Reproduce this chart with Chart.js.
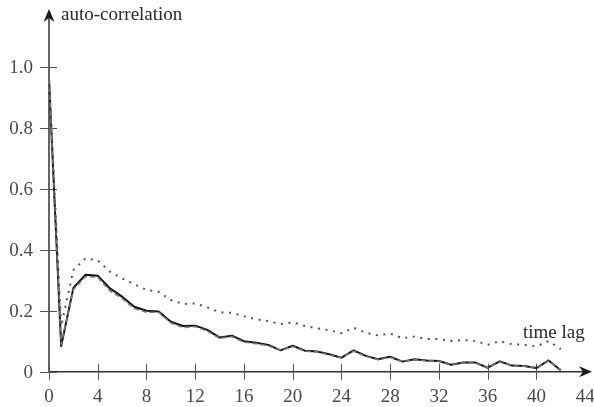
<!DOCTYPE html>
<html><head><meta charset="utf-8">
<script src="https://cdn.jsdelivr.net/npm/chart.js@4/dist/chart.umd.min.js"></script>
<style>html,body{margin:0;padding:0;background:#fff;} #wrap{width:594px;height:407px;}</style>
</head><body><div id="wrap"><canvas id="c" width="594" height="407"></canvas></div>
<script>
// ---- data ----
const lags = [0,1,2,3,4,5,6,7,8,9,10,11,12,13,14,15,16,17,18,19,20,21,22,23,24,25,26,27,28,29,30,31,32,33,34,35,36,37,38,39,40,41,42];
const acfSolid = [0.96,0.084,0.275,0.318,0.315,0.273,0.246,0.213,0.200,0.197,0.164,0.150,0.151,0.137,0.112,0.118,0.100,0.095,0.088,0.070,0.085,0.069,0.066,0.057,0.046,0.070,0.052,0.041,0.049,0.033,0.041,0.037,0.035,0.023,0.030,0.030,0.013,0.034,0.020,0.019,0.012,0.037,0.005];
const acfDashed = [0.96,0.090,0.270,0.312,0.310,0.265,0.240,0.207,0.195,0.195,0.160,0.145,0.148,0.133,0.110,0.115,0.097,0.092,0.085,0.070,0.083,0.067,0.065,0.055,0.046,0.068,0.050,0.040,0.047,0.033,0.039,0.036,0.034,0.023,0.029,0.029,0.014,0.032,0.020,0.018,0.013,0.035,0.006];
const acfDotted = [0.96,0.150,0.333,0.372,0.365,0.328,0.306,0.287,0.268,0.262,0.235,0.222,0.224,0.211,0.195,0.193,0.182,0.172,0.166,0.156,0.162,0.150,0.142,0.136,0.126,0.144,0.128,0.119,0.125,0.110,0.115,0.107,0.107,0.101,0.104,0.101,0.088,0.100,0.090,0.088,0.083,0.100,0.074];
const xTickValues = [0,4,8,12,16,20,24,28,32,36,40,44];
const xTickLabels = ['0','4','8','12','16','20','24','28','32','36','40','44'];
const yTickValues = [0,0.2,0.4,0.6,0.8,1.0];
const yTickLabels = ['0','0.2','0.4','0.6','0.8','1.0'];
const yAxisTitle = 'auto-correlation';
const xAxisTitle = 'time lag';

const FONT = '19px "Liberation Serif", "DejaVu Serif", serif';

function toPoints(vals){ return lags.map((l,i)=>({x:l, y:vals[i]})); }

function arrow(ctx, tx, ty, dir){
  // stealth arrowhead, dir: 'up' or 'right'
  ctx.save();
  ctx.translate(tx, ty);
  if (dir === 'up') ctx.rotate(-Math.PI/2);
  ctx.beginPath();
  ctx.moveTo(0,0);
  ctx.lineTo(-13,-5.5);
  ctx.lineTo(-9,0);
  ctx.lineTo(-13,5.5);
  ctx.closePath();
  ctx.fillStyle = '#1a1a1a';
  ctx.fill();
  ctx.restore();
}

const axesPlugin = {
  id: 'customAxes',
  beforeDatasetsDraw(chart){
    const {ctx, chartArea:a, scales:{x, y}} = chart;
    const x0 = x.getPixelForValue(0), y0 = y.getPixelForValue(0);
    ctx.save();
    // axis lines
    ctx.strokeStyle = '#333';
    ctx.lineWidth = 1.5;
    ctx.beginPath();
    ctx.moveTo(x0, y0 + 0.75); ctx.lineTo(x0, a.top + 6);
    ctx.moveTo(x0 - 0.75, y0); ctx.lineTo(a.right - 6, y0);
    ctx.stroke();
    arrow(ctx, x0, a.top - 1, 'up');
    arrow(ctx, a.right + 2, y0, 'right');
    // tick marks crossing the axes
    ctx.strokeStyle = '#555';
    ctx.lineWidth = 1;
    ctx.beginPath();
    xTickValues.forEach(v => {
      if (v > 42) return;
      const px = Math.round(x.getPixelForValue(v)) + 0.5;
      ctx.moveTo(px, y0 - 8); ctx.lineTo(px, y0 + 8);
    });
    yTickValues.forEach(v => {
      const py = Math.round(y.getPixelForValue(v)) + 0.5;
      ctx.moveTo(x0 - 9, py); ctx.lineTo(x0 + 8, py);
    });
    ctx.stroke();
    // tick labels
    ctx.font = FONT;
    ctx.fillStyle = '#4a4a4a';
    ctx.textAlign = 'center';
    ctx.textBaseline = 'alphabetic';
    xTickValues.forEach((v,i) => {
      ctx.fillText(xTickLabels[i], x.getPixelForValue(v), 401.5);
    });
    ctx.textAlign = 'right';
    ctx.textBaseline = 'middle';
    yTickValues.forEach((v,i) => {
      ctx.fillText(yTickLabels[i], 33, y.getPixelForValue(v) + 1);
    });
    // axis titles
    ctx.fillStyle = '#2a2a2a';
    ctx.textAlign = 'left';
    ctx.textBaseline = 'alphabetic';
    ctx.fillText(yAxisTitle, 61, 20);
    ctx.fillText(xAxisTitle, 523, 338);
    ctx.restore();
  }
};

new Chart(document.getElementById('c'), {
  type: 'line',
  data: {
    datasets: [
      { data: toPoints(acfDotted), borderColor: '#555', borderWidth: 2, borderDash: [2, 5.6], pointRadius: 0, tension: 0, fill: false },
      { data: toPoints(acfDashed), borderColor: '#777', borderWidth: 1.6, borderDash: [5, 3], pointRadius: 0, tension: 0, fill: false },
      { data: toPoints(acfSolid), borderColor: '#111', borderWidth: 2, pointRadius: 0, tension: 0, fill: false }
    ]
  },
  options: {
    responsive: false,
    animation: false,
    devicePixelRatio: 1,
    layout: { padding: { left: 49, right: 4, top: 10, bottom: 35.3 } },
    plugins: { legend: { display: false }, tooltip: { enabled: false } },
    scales: {
      x: { type: 'linear', min: 0, max: 44.4, display: false },
      y: { type: 'linear', min: 0, max: 1.186, display: false }
    },
    elements: { line: { borderJoinStyle: 'round' } }
  },
  plugins: [axesPlugin]
});
</script>
</body></html>
